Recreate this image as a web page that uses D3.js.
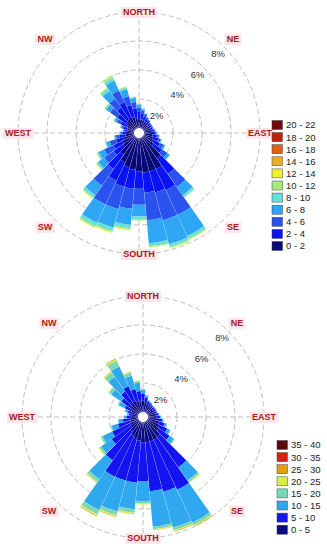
<!DOCTYPE html>
<html>
<head>
<meta charset="utf-8">
<script src="https://cdn.jsdelivr.net/npm/d3@7"></script>
<style>
body{margin:0;background:#fff;}
svg text{font-family:"Liberation Sans",Arial,sans-serif;}
</style>
</head>
<body>
<div id="chart"></div>
<script>
// wind directions (degrees, clockwise from north)
const directions = [0,10,20,30,40,50,60,70,80,90,100,110,120,130,140,150,160,170,180,190,200,210,220,230,240,250,260,270,280,290,300,310,320,330,340,350];

// top rose - frequency (%) per speed class
const topClasses = ["0 - 2","2 - 4","4 - 6","6 - 8","8 - 10","10 - 12","12 - 14","14 - 16","16 - 18","18 - 20","20 - 22"];
const topColors = ["#08087a","#0a14f2","#2a52ee","#2ea6f4","#66dfd6","#a6e87a","#eef032","#e6b020","#de6018","#c0200e","#6e0a0a"];
const top0_2 = [0.6,0.6,0.55,0.5,0.5,0.45,0.45,0.45,0.5,0.55,0.6,0.65,0.75,0.9,1.8,2.4,2.4,2.4,2.3,2.2,2.1,1.9,1.5,1.0,0.9,0.75,0.6,0.5,0.45,0.5,0.6,0.7,0.8,0.9,0.8,0.7];
const top2_4 = [0.5,0.4,0.3,0.25,0.2,0.18,0.18,0.17,0.2,0.23,0.3,0.38,0.5,0.7,1.3,1.6,1.5,1.4,1.2,1.3,1.4,1.4,1.2,0.8,0.7,0.55,0.4,0.28,0.2,0.28,0.45,0.8,1.0,1.1,0.85,0.65];
const top4_6 = [0.3,0.2,0.15,0.1,0.07,0.05,0.05,0.06,0.07,0.08,0.12,0.17,0.28,0.45,1.1,1.9,2.0,1.9,1.1,1.4,1.6,1.8,1.4,0.8,0.7,0.45,0.25,0.15,0.1,0.14,0.3,0.6,0.75,0.9,0.65,0.45];
const top6_8 = [0.2,0.12,0.07,0.05,0.03,0.02,0.02,0.02,0.03,0.04,0.06,0.07,0.12,0.2,0.7,1.6,1.7,1.6,0.8,1.1,1.3,1.4,0.8,0.5,0.45,0.25,0.12,0.07,0.05,0.08,0.2,0.35,0.65,0.75,0.5,0.3];
const top8_10 = [0.06,0.05,0.03,0,0,0,0,0,0,0,0.02,0.03,0.04,0.04,0.15,0.2,0.2,0.2,0.2,0.25,0.25,0.25,0.2,0.13,0.1,0.07,0.03,0,0,0,0.05,0.1,0.2,0.22,0.13,0.07];
const top10_12 = [0.03,0.03,0,0,0,0,0,0,0,0,0,0,0.01,0.01,0.05,0.07,0.07,0.07,0.1,0.1,0.1,0.1,0.07,0.05,0.04,0.03,0,0,0,0,0,0.05,0.08,0.1,0.05,0.03];
const top12_14 = [0.01,0,0,0,0,0,0,0,0,0,0,0,0,0,0,0.03,0.03,0.03,0,0.05,0.05,0.04,0.03,0.02,0.01,0,0,0,0,0,0,0,0.02,0.03,0.02,0];
const top14_16 = [0,0,0,0,0,0,0,0,0,0,0,0,0,0,0,0,0.01,0,0,0,0,0.01,0,0,0,0,0,0,0,0,0,0,0,0.01,0,0];
const top16_18 = [0,0,0,0,0,0,0,0,0,0,0,0,0,0,0,0,0,0,0,0,0,0,0,0,0,0,0,0,0,0,0,0,0,0.005,0,0];
const top18_20 = [0,0,0,0,0,0,0,0,0,0,0,0,0,0,0,0,0,0,0,0,0,0,0,0,0,0,0,0,0,0,0,0,0,0,0,0];
const top20_22 = [0,0,0,0,0,0,0,0,0,0,0,0,0,0,0,0,0,0,0,0,0,0,0,0,0,0,0,0,0,0,0,0,0,0,0,0];

// bottom rose - frequency (%) per speed class
const bottomClasses = ["0 - 5","5 - 10","10 - 15","15 - 20","20 - 25","25 - 30","30 - 35","35 - 40"];
const bottomColors = ["#0a0a80","#1414f0","#30a8f0","#78d8b8","#d8f040","#e0a010","#d82010","#5a0a0a"];
const bot0_5 = [0.8,0.7,0.6,0.55,0.5,0.5,0.5,0.5,0.55,0.6,0.7,0.8,0.9,1.0,1.3,1.4,1.4,1.4,1.4,1.3,1.2,1.1,0.9,0.7,0.65,0.55,0.5,0.45,0.4,0.45,0.55,0.7,0.8,0.9,0.8,0.75];
const bot5_10 = [0.45,0.3,0.2,0.18,0.15,0.15,0.15,0.15,0.18,0.22,0.28,0.4,0.6,0.9,2.6,3.8,3.6,3.4,2.7,2.9,3.0,3.1,2.4,1.6,1.35,0.9,0.55,0.35,0.25,0.3,0.5,0.8,1.0,1.1,0.85,0.7];
const bot10_15 = [0.28,0.15,0.08,0.06,0.05,0.05,0.05,0.05,0.06,0.07,0.1,0.16,0.24,0.37,1.1,2.5,2.55,2.45,1.35,1.85,2.2,2.55,1.6,0.9,0.75,0.45,0.3,0.17,0.12,0.2,0.45,0.85,1.25,1.5,0.95,0.6];
const bot15_20 = [0.05,0.04,0.02,0.01,0,0,0,0,0.01,0.01,0.02,0.04,0.05,0.07,0.15,0.2,0.2,0.18,0.18,0.25,0.28,0.32,0.22,0.15,0.12,0.08,0.05,0.03,0.03,0.05,0.1,0.2,0.35,0.45,0.23,0.12];
const bot20_25 = [0.02,0.01,0,0,0,0,0,0,0,0,0,0,0.01,0.01,0.05,0.07,0.07,0.05,0.07,0.08,0.09,0.1,0.06,0.05,0.03,0.02,0,0,0,0,0,0.05,0.08,0.12,0.06,0.03];
const bot25_30 = [0,0,0,0,0,0,0,0,0,0,0,0,0,0,0,0.03,0.03,0.02,0,0.02,0.03,0.03,0.02,0,0,0,0,0,0,0,0,0,0.02,0.03,0.01,0];
const bot30_35 = [0,0,0,0,0,0,0,0,0,0,0,0,0,0,0,0,0,0,0,0,0,0.01,0,0,0,0,0,0,0,0,0,0,0,0.01,0,0];
const bot35_40 = [0,0,0,0,0,0,0,0,0,0,0,0,0,0,0,0,0,0,0,0,0,0,0,0,0,0,0,0,0,0,0,0,0,0,0,0];

// grid rings and compass labels
const ringValues = [2,4,6,8];
const ringLabels = ["2%","4%","6%","8%"];
const compassNames = ["NORTH","NE","EAST","SE","SOUTH","SW","WEST","NW"];
const compassAngles = [0,45,90,135,180,225,270,315];

const width = 327, height = 550;
const svg = d3.select("#chart").append("svg")
    .attr("width", width)
    .attr("height", height);

const drawRose = (cx, cy, series, classes, colors, legendX, legendY) => {
    const g = svg.append("g").attr("transform", `translate(${cx},${cy})`);
    const rScale = d3.scaleLinear().domain([0, 8]).range([5, 121]);
    const toRad = d => d * Math.PI / 180;

    //dashed grid circles
    g.selectAll("circle.ring")
        .data(ringValues)
        .join("circle")
        .attr("class", "ring")
        .attr("r", d => rScale(d))
        .attr("fill", "none")
        .attr("stroke", "#bdbdbd")
        .attr("stroke-width", 1)
        .attr("stroke-dasharray", "5,3");
    //dashed axes (N-S and E-W)
    const rMax = rScale(8);
    g.append("line").attr("x1", -rMax).attr("x2", rMax).attr("y1", 0).attr("y2", 0)
        .attr("stroke", "#bdbdbd").attr("stroke-dasharray", "5,3");
    g.append("line").attr("y1", -rMax).attr("y2", rMax).attr("x1", 0).attr("x2", 0)
        .attr("stroke", "#bdbdbd").attr("stroke-dasharray", "5,3");

    //stack the speed classes for each direction
    const rows = directions.map((dir, i) => {
        const row = { dir: dir };
        classes.forEach((c, k) => row[c] = series[k][i]);
        return row;
    });
    const stacked = d3.stack().keys(classes)(rows);

    const arc = d3.arc()
        .innerRadius(d => rScale(d[0]))
        .outerRadius(d => rScale(d[1]))
        .startAngle(d => toRad(d.data.dir - 5))
        .endAngle(d => toRad(d.data.dir + 5))
        .padAngle(0.004)
        .padRadius(60);

    g.selectAll("g.layer")
        .data(stacked)
        .join("g")
        .attr("class", "layer")
        .attr("fill", (d, k) => colors[k])
        .selectAll("path")
        .data(d => d.filter(s => s[1] - s[0] > 0))
        .join("path")
        .attr("d", arc);

    //white hole in the centre
    g.append("circle").attr("r", 4.5).attr("fill", "#fff");

    //ring labels along the NE diagonal
    g.selectAll("text.ringlab")
        .data(ringValues)
        .join("text")
        .attr("class", "ringlab")
        .attr("x", d => (rScale(d) - 9) * Math.SQRT1_2)
        .attr("y", d => -(rScale(d) - 9) * Math.SQRT1_2 + 3.5)
        .attr("text-anchor", "middle")
        .attr("font-size", 9.5)
        .attr("fill", "#333")
        .text((d, i) => ringLabels[i]);

    //compass labels with pink boxes
    compassNames.forEach((name, i) => {
        const a = toRad(compassAngles[i]);
        const r = compassAngles[i] % 90 === 0 ? rMax : rMax + 12;
        const lg = g.append("g")
            .attr("transform", `translate(${r * Math.sin(a)},${-r * Math.cos(a)})`);
        const t = lg.append("text")
            .attr("text-anchor", "middle")
            .attr("y", 3.4)
            .attr("font-size", 9)
            .attr("font-weight", "bold")
            .attr("fill", "#a3221a")
            .text(name);
        const bb = t.node().getBBox();
        lg.insert("rect", "text")
            .attr("x", bb.x - 2)
            .attr("y", bb.y - 0.5)
            .attr("width", bb.width + 4)
            .attr("height", bb.height + 1)
            .attr("fill", "#fde3ea");
    });

    //legend, highest class on top
    const legend = svg.append("g").attr("transform", `translate(${legendX},${legendY})`);
    const order = classes.map((c, k) => k).reverse();
    const item = legend.selectAll("g")
        .data(order)
        .join("g")
        .attr("transform", (k, j) => `translate(0,${j * 12.1})`);
    item.append("rect")
        .attr("x", 0).attr("y", -4.5)
        .attr("width", 10.5).attr("height", 9)
        .attr("fill", k => colors[k])
        .attr("stroke", "#444")
        .attr("stroke-width", 0.5);
    item.append("text")
        .attr("x", 14)
        .attr("y", 3.4)
        .attr("font-size", 9.5)
        .attr("fill", "#222")
        .text(k => classes[k]);
};

drawRose(139, 133,
    [top0_2, top2_4, top4_6, top6_8, top8_10, top10_12, top12_14, top14_16, top16_18, top18_20, top20_22],
    topClasses, topColors, 272, 125);
drawRose(143, 417,
    [bot0_5, bot5_10, bot10_15, bot15_20, bot20_25, bot25_30, bot30_35, bot35_40],
    bottomClasses, bottomColors, 277, 445);
</script>
</body>
</html>
